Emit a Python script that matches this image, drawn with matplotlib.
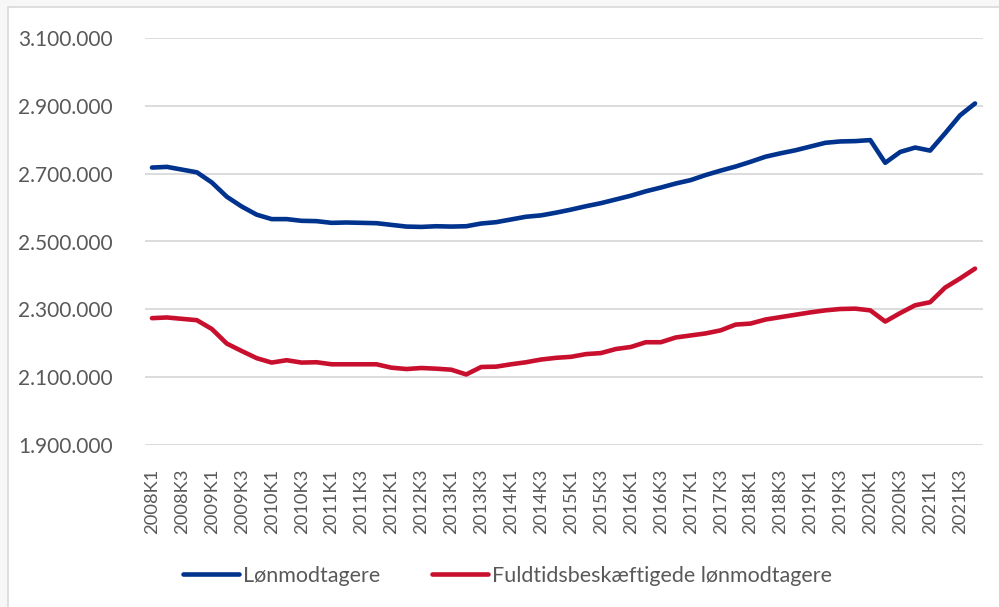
import numpy as np
import matplotlib
matplotlib.use('Agg')
import matplotlib.pyplot as plt
from matplotlib.ticker import FuncFormatter
from matplotlib.patches import Rectangle

# Kvartaler 2008K1 - 2021K4
years = list(range(2008, 2022))
quarters = [f"{y}K{q}" for y in years for q in range(1, 5)]

loenmodtagere = [
    2718, 2720, 2712, 2704, 2674, 2632, 2603, 2579, 2566, 2566,
    2561, 2560, 2555, 2556, 2555, 2554, 2549, 2544, 2543, 2545,
    2544, 2545, 2553, 2557, 2565, 2573, 2577, 2585, 2594, 2604,
    2613, 2624, 2635, 2648, 2659, 2671, 2681, 2696, 2709, 2721,
    2735, 2750, 2760, 2769, 2780, 2791, 2795, 2796, 2799, 2732,
    2764, 2777, 2768, 2819, 2872, 2907,
]
fuldtid = [
    2274, 2276, 2272, 2268, 2242, 2199, 2177, 2156, 2143, 2150,
    2143, 2144, 2138, 2138, 2138, 2138, 2128, 2124, 2127, 2125,
    2122, 2108, 2130, 2131, 2138, 2144, 2152, 2157, 2160, 2168,
    2171, 2183, 2189, 2203, 2203, 2217, 2223, 2229, 2238, 2255,
    2258, 2270, 2277, 2284, 2291, 2297, 2301, 2302, 2297, 2264,
    2289, 2312, 2321, 2364, 2391, 2420,
]
loenmodtagere = np.array(loenmodtagere) * 1000
fuldtid = np.array(fuldtid) * 1000

plt.rcParams['font.family'] = ['Lato', 'DejaVu Sans']
txt = '#595959'
fs = 15.5

fig = plt.figure(figsize=(9.99, 6.07), dpi=100, facecolor='#f7f7f7')
fig.patches.append(Rectangle((8/999, -0.01), 1.02, 1 - 7/607 + 0.01, transform=fig.transFigure,
                             facecolor='white', edgecolor='#d9d9d9', lw=1.2, zorder=-5))

ax = fig.add_axes([144.5/999, 1 - 445/607, (982.5 - 144.5)/999, (445 - 38)/607])
ax.set_facecolor('none')
x = np.arange(len(quarters))
ax.plot(x, loenmodtagere, color='#00338d', lw=3.3, solid_capstyle='round', label='Lønmodtagere')
ax.plot(x, fuldtid, color='#c8102e', lw=3.3, solid_capstyle='round', label='Fuldtidsbeskæftigede lønmodtagere')

ax.set_xlim(-0.5, len(quarters) - 0.5)
ax.set_ylim(1900000, 3100000)
ax.set_yticks(np.arange(1900000, 3100001, 200000))
ax.yaxis.set_major_formatter(FuncFormatter(lambda v, p: f"{int(v):,}".replace(',', '.')))
ax.set_xticks(x[::2])
ax.set_xticklabels(quarters[::2], rotation=90)
ax.grid(axis='y', color='#d9d9d9', lw=1.3)
ax.set_axisbelow(True)
for s in ax.spines.values():
    s.set_visible(False)
ax.tick_params(axis='both', length=0, colors=txt)
ax.tick_params(axis='y', pad=23, labelsize=15)
ax.tick_params(axis='x', pad=17, labelsize=13.2)

fig.legend(loc='center left', bbox_to_anchor=(183/999, 1 - 576/607), ncol=2, frameon=False,
           fontsize=fs, labelcolor=txt, handlelength=2.6, handletextpad=0.2,
           columnspacing=2.4, borderpad=0, borderaxespad=0)

fig.savefig('out.png', dpi=100, facecolor=fig.get_facecolor())
